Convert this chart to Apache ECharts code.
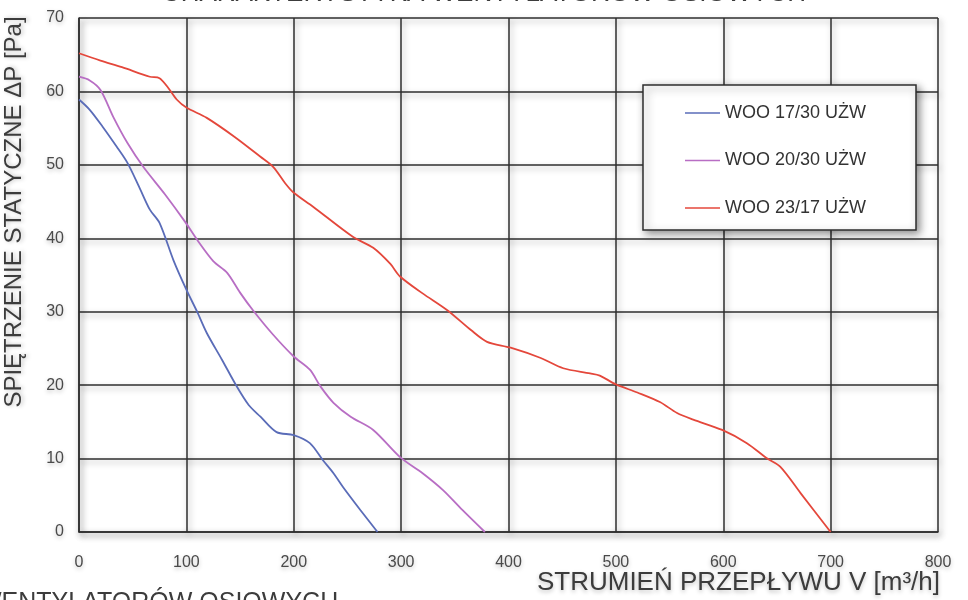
<!DOCTYPE html>
<html>
<head>
<meta charset="utf-8">
<script src="https://cdn.jsdelivr.net/npm/echarts@6/dist/echarts.min.js"></script>
<style>html,body{margin:0;padding:0;background:#fff}#c{width:968px;height:600px}</style>
</head>
<body>
<div id="c"></div>
<script>
// ---- data ----
const seriesNames = ['WOO 17/30 UŻW', 'WOO 20/30 UŻW', 'WOO 23/17 UŻW'];

const flowA = [0, 10, 22, 35, 45, 56, 66, 75, 88, 100, 110, 119, 133, 147, 158, 169, 184, 200, 215, 227, 237, 246, 262, 278];
const pressA = [58.9, 57.5, 55.2, 52.5, 50.3, 47, 43.9, 42.1, 37, 33, 30, 27.1, 23.5, 19.8, 17.3, 15.7, 13.6, 13.2, 12.1, 9.8, 8, 6.1, 3, 0];

const flowB = [0, 10, 20, 32, 45, 60, 80, 99, 110, 125, 138, 150, 162, 180, 200, 215, 225, 237, 253, 274, 299, 320, 339, 357, 378];
const pressB = [62, 61.5, 60.2, 56.5, 53, 49.7, 46, 42.2, 39.8, 36.9, 35.3, 32.6, 30.2, 27, 23.9, 22.1, 19.8, 17.6, 15.7, 13.9, 10.2, 8, 5.7, 3, 0];

const flowC = [0, 20, 40, 66, 75, 83, 91, 100, 119, 145, 169, 181, 192, 200, 218, 255, 274, 290, 299, 320, 343, 365, 380, 402, 430, 451, 476, 485, 500, 520, 541, 557, 572, 599, 622, 641, 653, 672, 700];
const pressC = [65.2, 64.2, 63.3, 62, 61.8, 60.5, 58.9, 57.8, 56.4, 53.8, 51.1, 49.7, 47.5, 46.2, 44.3, 40.2, 38.7, 36.5, 34.8, 32.5, 30.2, 27.5, 25.9, 25.1, 23.7, 22.3, 21.6, 21.3, 20.1, 19, 17.7, 16.2, 15.3, 13.9, 12.1, 10, 8.9, 5.3, 0];

const xTicks = [0, 100, 200, 300, 400, 500, 600, 700, 800];
const yTicks = [0, 10, 20, 30, 40, 50, 60, 70];

const titleText = 'CHARAKTERYSTYKA WENTYLATORÓW OSIOWYCH';
const bottomText = 'WENTYLATORÓW OSIOWYCH';
const xName = 'STRUMIEŃ PRZEPŁYWU V [m³/h]';
const yName = 'SPIĘTRZENIE STATYCZNE ΔP [Pa]';

// ---- chart ----
const colors = ['#5a6cb8', '#b86ec4', '#e4473b'];
const zip = (xs, ys) => xs.map((x, i) => [x, ys[i]]);
const FONT = '"Liberation Sans", Arial, sans-serif';
const gridLine = {
  color: '#2e2e2e', width: 1.5,
  shadowColor: 'rgba(0,0,0,0.35)', shadowBlur: 6, shadowOffsetX: 2, shadowOffsetY: 3
};
const labelStyle = {
  color: '#4a4a4a', fontSize: 16, fontFamily: FONT,
  textShadowColor: 'rgba(0,0,0,0.25)', textShadowBlur: 4, textShadowOffsetY: 2
};

const chart = echarts.init(document.getElementById('c'), null, { renderer: 'canvas' });
chart.setOption({
  backgroundColor: '#ffffff',
  animation: false,
  grid: { left: 79, right: 30, top: 18, bottom: 68 },
  xAxis: {
    type: 'value', min: xTicks[0], max: xTicks[xTicks.length - 1], interval: 100,
    axisLine: { show: true, lineStyle: gridLine },
    axisTick: { show: false },
    splitLine: { show: true, lineStyle: gridLine },
    axisLabel: Object.assign({ margin: 23 }, labelStyle)
  },
  yAxis: {
    type: 'value', min: yTicks[0], max: yTicks[yTicks.length - 1], interval: 10,
    axisLine: { show: true, lineStyle: gridLine },
    axisTick: { show: false },
    splitLine: { show: true, lineStyle: gridLine },
    axisLabel: Object.assign({ margin: 15 }, labelStyle)
  },
  legend: {
    orient: 'vertical', left: 680, top: 98, itemGap: 27.5,
    itemWidth: 35, itemHeight: 1.5, z: 10, icon: 'rect',
    textStyle: { color: '#333', fontSize: 18, fontFamily: FONT, lineHeight: 20 },
    data: seriesNames
  },
  graphic: [
    {
      type: 'rect', z: 8,
      shape: { x: 643, y: 85, width: 273, height: 145 },
      style: { fill: '#fff', stroke: '#2e2e2e', lineWidth: 1.5,
        shadowColor: 'rgba(0,0,0,0.45)', shadowBlur: 8, shadowOffsetX: 3, shadowOffsetY: 3 }
    },
    {
      type: 'text', z: 8, left: 'center', top: -19,
      style: { text: titleText, fill: '#3c3c3c', font: '26px ' + FONT }
    },
    {
      type: 'text', z: 8, left: -22, top: 591,
      style: { text: bottomText, fill: '#3c3c3c', font: '25px ' + FONT }
    },
    {
      type: 'text', z: 8, right: 28, top: 570,
      style: { text: xName, fill: '#3c3c3c', font: '26px ' + FONT,
        textShadowColor: 'rgba(0,0,0,0.25)', textShadowBlur: 4, textShadowOffsetY: 2 }
    },
    {
      type: 'text', z: 8, rotation: Math.PI / 2, x: 14, y: 212,
      style: { text: yName, fill: '#3c3c3c', font: '24px ' + FONT,
        align: 'center', verticalAlign: 'middle',
        textShadowColor: 'rgba(0,0,0,0.25)', textShadowBlur: 4, textShadowOffsetX: 2 }
    }
  ],
  series: [
    { name: seriesNames[0], type: 'line', data: zip(flowA, pressA), smooth: 0.3, symbol: 'none',
      lineStyle: { color: colors[0], width: 1.8 }, itemStyle: { color: colors[0] } },
    { name: seriesNames[1], type: 'line', data: zip(flowB, pressB), smooth: 0.3, symbol: 'none',
      lineStyle: { color: colors[1], width: 1.8 }, itemStyle: { color: colors[1] } },
    { name: seriesNames[2], type: 'line', data: zip(flowC, pressC), smooth: 0.3, symbol: 'none',
      lineStyle: { color: colors[2], width: 1.8 }, itemStyle: { color: colors[2] } }
  ]
});
</script>
</body>
</html>
